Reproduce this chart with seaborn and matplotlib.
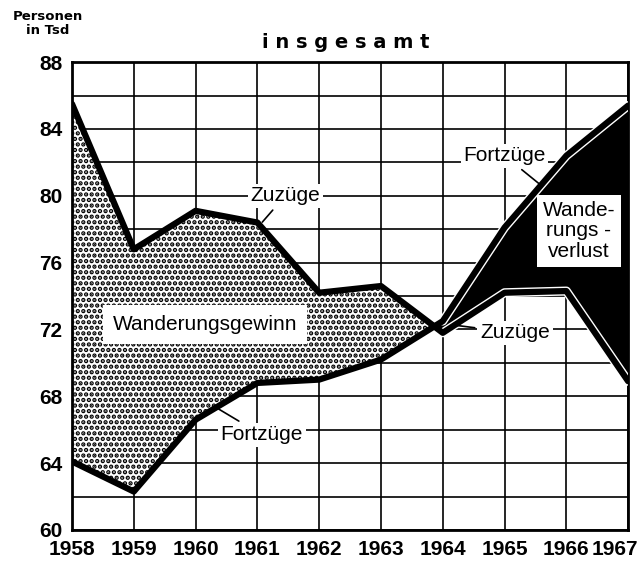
import numpy as np
import pandas as pd
import matplotlib
matplotlib.use("Agg")
import matplotlib.pyplot as plt
import matplotlib.transforms as mtransforms
import seaborn as sns

# -------------------------------
# Data (Personen in Tsd)
# -------------------------------
years = [1958, 1959, 1960, 1961, 1962, 1963, 1964, 1965, 1966, 1967]
zuzuege = [85.5, 76.8, 79.1, 78.4, 74.2, 74.6, 71.8, 74.2, 74.3, 68.9]
fortzuege = [64.1, 62.3, 66.6, 68.8, 69.0, 70.2, 72.5, 78.1, 82.4, 85.4]
y_ticks = [60, 64, 68, 72, 76, 80, 84, 88]

df = pd.DataFrame({"Jahr": years, "Zuzüge": zuzuege, "Fortzüge": fortzuege})

sns.set_style("white")
plt.rcParams["font.family"] = ["Liberation Sans", "DejaVu Sans"]
plt.rcParams["text.color"] = "black"
plt.rcParams["hatch.linewidth"] = 2.2

fig = plt.figure(figsize=(6.4, 5.65), dpi=100)
ax = fig.add_axes([0.1125, 0.062, 0.869, 0.828])

x = df["Jahr"].values
z = df["Zuzüge"].values
f = df["Fortzüge"].values

# -------------------------------
# Filled areas
# -------------------------------
ax.fill_between(x, z, f, where=z >= f, interpolate=True,
                facecolor="white", edgecolor="black", hatch="...", linewidth=0, zorder=2)
ax.fill_between(x, z, f, where=z <= f, interpolate=True,
                facecolor="black", edgecolor="black", linewidth=0, zorder=2)

# white edge along the lines in the loss region
late = df[df["Jahr"] >= 1964]
ax.plot(late["Jahr"], late["Zuzüge"], color="white", lw=6.5, zorder=3)
ax.plot(late["Jahr"], late["Fortzüge"], color="white", lw=6.5, zorder=3)

# -------------------------------
# Lines
# -------------------------------
sns.lineplot(data=df, x="Jahr", y="Zuzüge", ax=ax, color="black", lw=4.5, zorder=4)
sns.lineplot(data=df, x="Jahr", y="Fortzüge", ax=ax, color="black", lw=4.5, zorder=4)

# -------------------------------
# Axes, grid
# -------------------------------
ax.set_xlim(1958, 1967)
ax.set_ylim(60, 88)
ax.set_xticks(years)
grid_y = np.arange(60, 89, 2)
ax.set_yticks(grid_y)
ax.set_yticklabels([str(v) if v in y_ticks else "" for v in grid_y])
ax.grid(True, color="black", lw=1.2, zorder=1)
ax.set_axisbelow(True)
for s in ax.spines.values():
    s.set_color("black")
    s.set_linewidth(2)
ax.tick_params(length=0, labelsize=15, labelcolor="black")
ax.tick_params(axis="x", pad=7)
ax.tick_params(axis="y", pad=7)
for lab in ax.get_xticklabels() + ax.get_yticklabels():
    lab.set_fontweight("bold")
# last year label sits against the right edge
last = ax.get_xticklabels()[-1]
last.set_horizontalalignment("right")
last.set_transform(last.get_transform() + mtransforms.ScaledTranslation(0.1, 0, fig.dpi_scale_trans))
ax.set_xlabel("")
ax.set_ylabel("")

# -------------------------------
# Texts
# -------------------------------
fig.text(0.54, 0.925, "i n s g e s a m t", ha="center", va="center",
         fontsize=14, fontweight="bold", family=["DejaVu Sans"])
fig.text(0.075, 0.958, "Personen\nin Tsd", ha="center", va="center",
         fontsize=9.5, fontweight="bold", family=["DejaVu Sans"], linespacing=1.1)

box = dict(facecolor="white", edgecolor="none", pad=2)
lab_kw = dict(fontsize=15, ha="center", va="center", zorder=6, bbox=box)
arrow = dict(arrowstyle="-", color="black", lw=1.2)

ax.annotate("Zuzüge", xy=(1961.05, 78.3), xytext=(1961.45, 80.0),
            arrowprops=arrow, **lab_kw)
ax.annotate("Fortzüge", xy=(1960.3, 67.4), xytext=(1961.07, 65.7),
            arrowprops=arrow, **lab_kw)
ax.annotate("Fortzüge", xy=(1965.6, 80.6), xytext=(1965.0, 82.4),
            arrowprops=arrow, **lab_kw)
ax.annotate("Zuzüge", xy=(1964.1, 72.3), xytext=(1965.17, 71.8),
            arrowprops=arrow, **lab_kw)

ax.text(1960.15, 72.3, "Wanderungsgewinn", fontsize=15, ha="center", va="center",
        zorder=6, bbox=dict(facecolor="white", edgecolor="none", pad=7))
ax.text(1966.2, 77.9, "Wande-\nrungs -\nverlust", fontsize=15, ha="center", va="center",
        zorder=6, linespacing=1.1, bbox=dict(facecolor="white", edgecolor="none", pad=4))

fig.savefig("out.png", dpi=100)
